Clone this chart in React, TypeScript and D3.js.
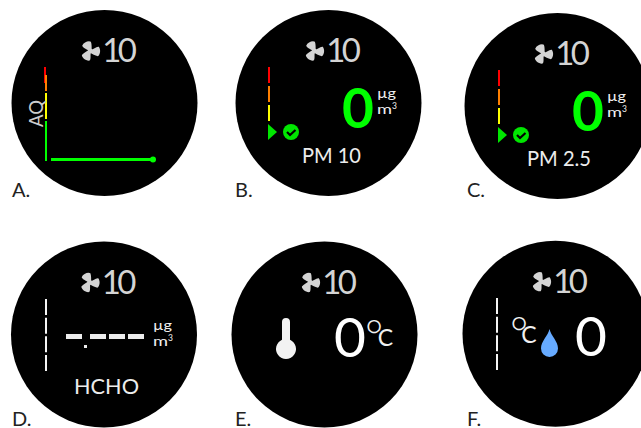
import React from "react";
import * as d3 from "d3";

const panelLabels = ["A.", "B.", "C.", "D.", "E.", "F."];
const fanSpeed = "10";
const gaugeColors = ["#ff0000", "#ff7f00", "#ffff00", "#00ff00"];
const airLabels = ["PM 10", "PM 2.5", "HCHO"];
const readings = ["0", "0", "0", "0"];
const unitTop = "µg";
const unitBottom = "m";
const unitPower = "3";
const degree = "°";
const celsius = "C";
const aqLabel = "AQ";

const W = 641, H = 428, R = 93;
const centers: Record<string, [number, number]> = {
  A: [104.5, 103], B: [328.5, 103], C: [557.5, 106],
  D: [104, 334.5], E: [324.5, 334.5], F: [555.5, 333.7],
};
const FONT = "Lato, 'Open Sans', sans-serif";
const GRAY = "#d4d4d4";
const SOFT = "#ececec";
const GREEN2 = "#00e600";

function bladePath() {
  const p = d3.path();
  p.moveTo(-1, 0);
  p.bezierCurveTo(-2.5, -3, -6, -5, -6, -7.5);
  p.bezierCurveTo(-3.5, -10.5, 2, -10.5, 3.5, -8.5);
  p.bezierCurveTo(3.5, -5.5, 2.5, -3, 1.5, 0);
  p.closePath();
  return p.toString();
}

function Fan({ x, y }: { x: number; y: number }) {
  return (
    <g>
      <g transform={`translate(${x},${y})`}>
        <circle r={2.4} fill={GRAY} />
        {d3.range(3).map((i) => (
          <path key={i} d={bladePath()} transform={`rotate(${i * 120 - 18})`} fill={GRAY} />
        ))}
      </g>
      <text x={x + 12} y={y + 11} fontFamily={FONT} fontWeight={400} fontSize={33} fill={GRAY} letterSpacing={-3.5}>{fanSpeed}</text>
    </g>
  );
}

function Unit({ x, y }: { x: number; y: number }) {
  return (
    <g fontFamily={FONT} fill="#f0f0f0" fontSize={14}>
      <text x={x} y={y} textLength={19} lengthAdjust="spacingAndGlyphs">{unitTop}</text>
      <text x={x} y={y + 15.6}>
        <tspan textLength={15} lengthAdjust="spacingAndGlyphs">{unitBottom}</tspan>
        <tspan fontSize={8.5} dy={-4.5}>{unitPower}</tspan>
      </text>
    </g>
  );
}

function TempUnit({ x, y, gap }: { x: number; y: number; gap: number }) {
  return (
    <text x={x} y={y} fontFamily={FONT} fill="#f0f0f0">
      <tspan fontSize={44} fontWeight={300}>{degree}</tspan>
      <tspan fontSize={23} fontWeight={400} dx={gap} dy={-6.5}>{celsius}</tspan>
    </text>
  );
}

const gaugeY = d3.scaleLinear().domain([0, 4]).range([67, 143]);

function GaugeBars({ x, dy }: { x: number; dy: number }) {
  const t = gaugeY(3) + dy;
  return (
    <g>
      {gaugeColors.slice(0, 3).map((c, i) => (
        <line key={c} x1={x} x2={x} y1={gaugeY(i) + dy} y2={gaugeY(i + 1) - 3 + dy} stroke={c} strokeWidth={2} />
      ))}
      <path d={`M${x - 1},${t}L${x + 8},${t + 8}L${x - 1},${t + 16}Z`} fill={GREEN2} />
      <circle cx={x + 22} cy={t + 8} r={8} fill={GREEN2} />
      <path d={`M${x + 18},${t + 8}l3,3l5.5,-5`} fill="none" stroke="#000" strokeWidth={2.2} />
    </g>
  );
}

function WhiteGauge({ x, y0 }: { x: number; y0: number }) {
  const s = d3.scaleLinear().domain([0, 3]).range([y0, y0 + 56]);
  return (
    <g>
      {d3.range(4).map((i) => (
        <line key={i} x1={x} x2={x} y1={s(i)} y2={s(i) + 16} stroke="#f5f5f5" strokeWidth={2} />
      ))}
    </g>
  );
}

const dashX = d3.scaleLinear().domain([1, 3]).range([90, 128]);

export default function App() {
  const labelX = [12, 235, 467, 12, 235, 467];
  const labelY = [197, 197, 197, 426, 426, 426];
  return (
    <svg width={W} height={H} viewBox={`0 0 ${W} ${H}`} style={{ position: "absolute", left: 0, top: 0, background: "#fff" }}>
      {Object.values(centers).map(([x, y], i) => (
        <g key={i}>
          <circle cx={x} cy={y} r={R} fill="#000" />
          <Fan x={x - 14.3} y={y - 52} />
        </g>
      ))}
      {panelLabels.map((l, i) => (
        <text key={l} x={labelX[i]} y={labelY[i]} fontFamily={FONT} fontWeight={400} fontSize={20} fill="#222">{l}</text>
      ))}

      {/* A */}
      <line x1={45} x2={45} y1={67} y2={83} stroke={gaugeColors[0]} strokeWidth={2} />
      <line x1={46} x2={46} y1={75} y2={91} stroke={gaugeColors[1]} strokeWidth={2} />
      <line x1={46} x2={46} y1={93} y2={119} stroke={gaugeColors[2]} strokeWidth={2} />
      <line x1={46} x2={46} y1={121} y2={161} stroke={gaugeColors[3]} strokeWidth={2} />
      <line x1={51} x2={153} y1={159.5} y2={159.5} stroke={gaugeColors[3]} strokeWidth={3} />
      <circle cx={153} cy={159.5} r={3} fill={gaugeColors[3]} />
      <text transform="translate(43,127) rotate(-90)" fontFamily={FONT} fontSize={20} fill="#cccccc" textLength={27} lengthAdjust="spacingAndGlyphs">{aqLabel}</text>

      {/* B */}
      <GaugeBars x={269} dy={0} />
      <text x={358} y={128} textAnchor="middle" fontFamily={FONT} fontWeight={700} fontSize={55} fill="#00ff00">{readings[0]}</text>
      <Unit x={377} y={98} />
      <text x={302} y={163} fontFamily={FONT} fontSize={21} fill={SOFT} textLength={59} lengthAdjust="spacingAndGlyphs">{airLabels[0]}</text>

      {/* C */}
      <GaugeBars x={499} dy={3} />
      <text x={588} y={131} textAnchor="middle" fontFamily={FONT} fontWeight={700} fontSize={55} fill="#00ff00">{readings[1]}</text>
      <Unit x={607} y={101} />
      <text x={527} y={166} fontFamily={FONT} fontSize={21} fill={SOFT} textLength={64} lengthAdjust="spacingAndGlyphs">{airLabels[1]}</text>

      {/* D */}
      <WhiteGauge x={46} y0={299} />
      <rect x={66} y={334} width={16} height={5} fill={SOFT} />
      {d3.range(1, 4).map((i) => (
        <rect key={i} x={dashX(i)} y={334} width={16} height={5} fill={SOFT} />
      ))}
      <rect x={84} y={345} width={3} height={3} fill={SOFT} />
      <Unit x={153} y={330} />
      <text x={74} y={394} fontFamily={FONT} fontSize={21} fill={SOFT} textLength={65} lengthAdjust="spacingAndGlyphs">{airLabels[2]}</text>

      {/* E */}
      <path d="M282,322a4,4 0 0 1 8,0V339.8a10,10 0 1 1 -8,0Z" fill="#f2f2f2" />
      <text x={350} y={357} textAnchor="middle" fontFamily={FONT} fontSize={55} fontWeight={400} fill="#fff">{readings[2]}</text>
      <TempUnit x={365} y={352} gap={-5.5} />

      {/* F */}
      <WhiteGauge x={497} y0={298} />
      <TempUnit x={510} y={349} gap={-7} />
      <path d="M549.5,329C551,336 558,341 558,348.5A8.5,8.5 0 0 1 541,348.5C541,341 548,336 549.5,329Z" fill="#66aaff" />
      <text x={591} y={356} textAnchor="middle" fontFamily={FONT} fontSize={55} fontWeight={400} fill="#fff">{readings[3]}</text>
    </svg>
  );
}
